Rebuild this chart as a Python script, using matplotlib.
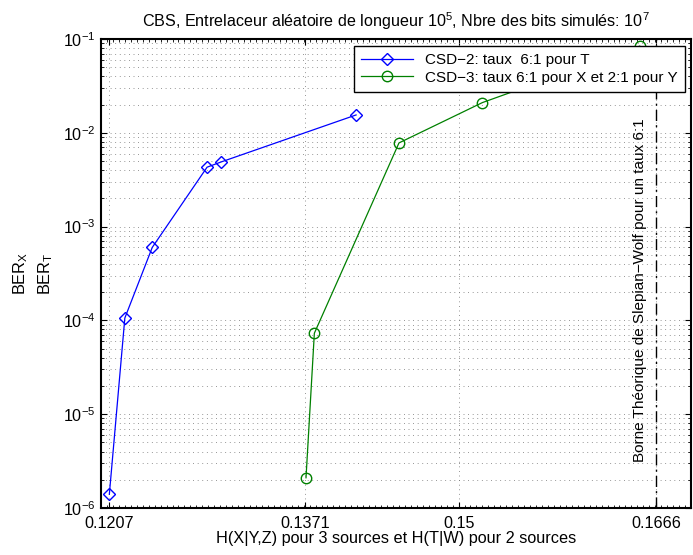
import numpy as np
import matplotlib
matplotlib.use("Agg")
import matplotlib.pyplot as plt
from matplotlib.ticker import FixedLocator, LogLocator, MultipleLocator, NullFormatter

plt.rcParams['font.family'] = ['Liberation Sans', 'DejaVu Sans']
plt.rcParams['mathtext.fontset'] = 'custom'
plt.rcParams['mathtext.rm'] = 'Liberation Sans'
plt.rcParams['mathtext.it'] = 'Liberation Sans:italic'
plt.rcParams['mathtext.default'] = 'regular'

# CSD-2: rate 6:1 for T
h_csd2 = [0.1207, 0.1220, 0.1243, 0.1289, 0.1301, 0.1414]
ber_csd2 = [1.4e-6, 1.06e-4, 6.0e-4, 4.3e-3, 4.9e-3, 1.55e-2]

# CSD-3: rate 6:1 for X and 2:1 for Y
h_csd3 = [0.1372, 0.1379, 0.1450, 0.1520, 0.1652]
ber_csd3 = [2.1e-6, 7.3e-5, 7.8e-3, 2.1e-2, 8.4e-2]

x_ticks = [0.1207, 0.1371, 0.15, 0.1666]
x_tick_labels = ['0.1207', '0.1371', '0.15', '0.1666']
sw_bound = 0.1666

fig = plt.figure(figsize=(6.93, 5.55), dpi=100)
ax = fig.add_axes([101 / 693, 1 - 508 / 555, 590 / 693, 469 / 555])

ax.semilogy(h_csd2, ber_csd2, color='#0000ff', marker='D', markersize=6.5,
            markerfacecolor='none', markeredgewidth=1.0, linewidth=0.9,
            label='CSD\u22122: taux  6:1 pour T')
ax.semilogy(h_csd3, ber_csd3, color='#008000', marker='o', markersize=7.5,
            markerfacecolor='none', markeredgewidth=1.0, linewidth=0.9,
            label='CSD\u22123: taux 6:1 pour X et 2:1 pour Y')

# Slepian-Wolf bound
ax.axvline(sw_bound, color='k', linestyle=(0, (8, 3, 1.5, 3)), linewidth=1.0)
ax.text(0.16525, 2.1e-4, 'Borne Théorique de Slepian\u2212Wolf pour un taux 6:1',
        rotation=90, ha='center', va='center', fontsize=11)

ax.set_xlim(0.12, 0.1695)
ax.set_ylim(1e-6, 1e-1)

ax.xaxis.set_major_locator(FixedLocator(x_ticks))
ax.set_xticklabels(x_tick_labels)
ax.xaxis.set_minor_locator(MultipleLocator(0.0005))
ax.yaxis.set_major_locator(LogLocator(base=10, numticks=10))
ax.yaxis.set_minor_locator(LogLocator(base=10, subs=np.arange(2, 10), numticks=20))
ax.yaxis.set_minor_formatter(NullFormatter())

grid_style = dict(color='0.45', linestyle=(0, (1, 4.5)), linewidth=0.6)
ax.grid(True, which='major', axis='x', **grid_style)
ax.grid(True, which='both', axis='y', **grid_style)

ax.tick_params(which='both', direction='in', top=True, right=True, labelsize=11.6)
ax.tick_params(which='major', length=4, width=0.8, pad=6)
ax.tick_params(which='minor', length=2, width=0.6)
ax.tick_params(axis='y', which='major', pad=4)
for s in ax.spines.values():
    s.set_linewidth(1.5)

ax.set_title('CBS, Entrelaceur aléatoire de longueur $10^5$, Nbre des bits simulés: $10^7$',
             fontsize=11.6, pad=9)
ax.set_xlabel('H(X|Y,Z) pour 3 sources et H(T|W) pour 2 sources', fontsize=11.7, labelpad=0)
ax.set_ylabel('$BER_X$\n$BER_T$', fontsize=11.8, labelpad=6, linespacing=1.45)

leg = ax.legend(loc='upper left', bbox_to_anchor=((354 - 101) / 590, (508 - 46) / 469),
                borderaxespad=0, fontsize=11, handlelength=3.4, frameon=True,
                fancybox=False, edgecolor='k', framealpha=1, borderpad=0.45,
                labelspacing=0.25)
leg.get_frame().set_linewidth(1.0)

fig.savefig('out.png', dpi=100)
